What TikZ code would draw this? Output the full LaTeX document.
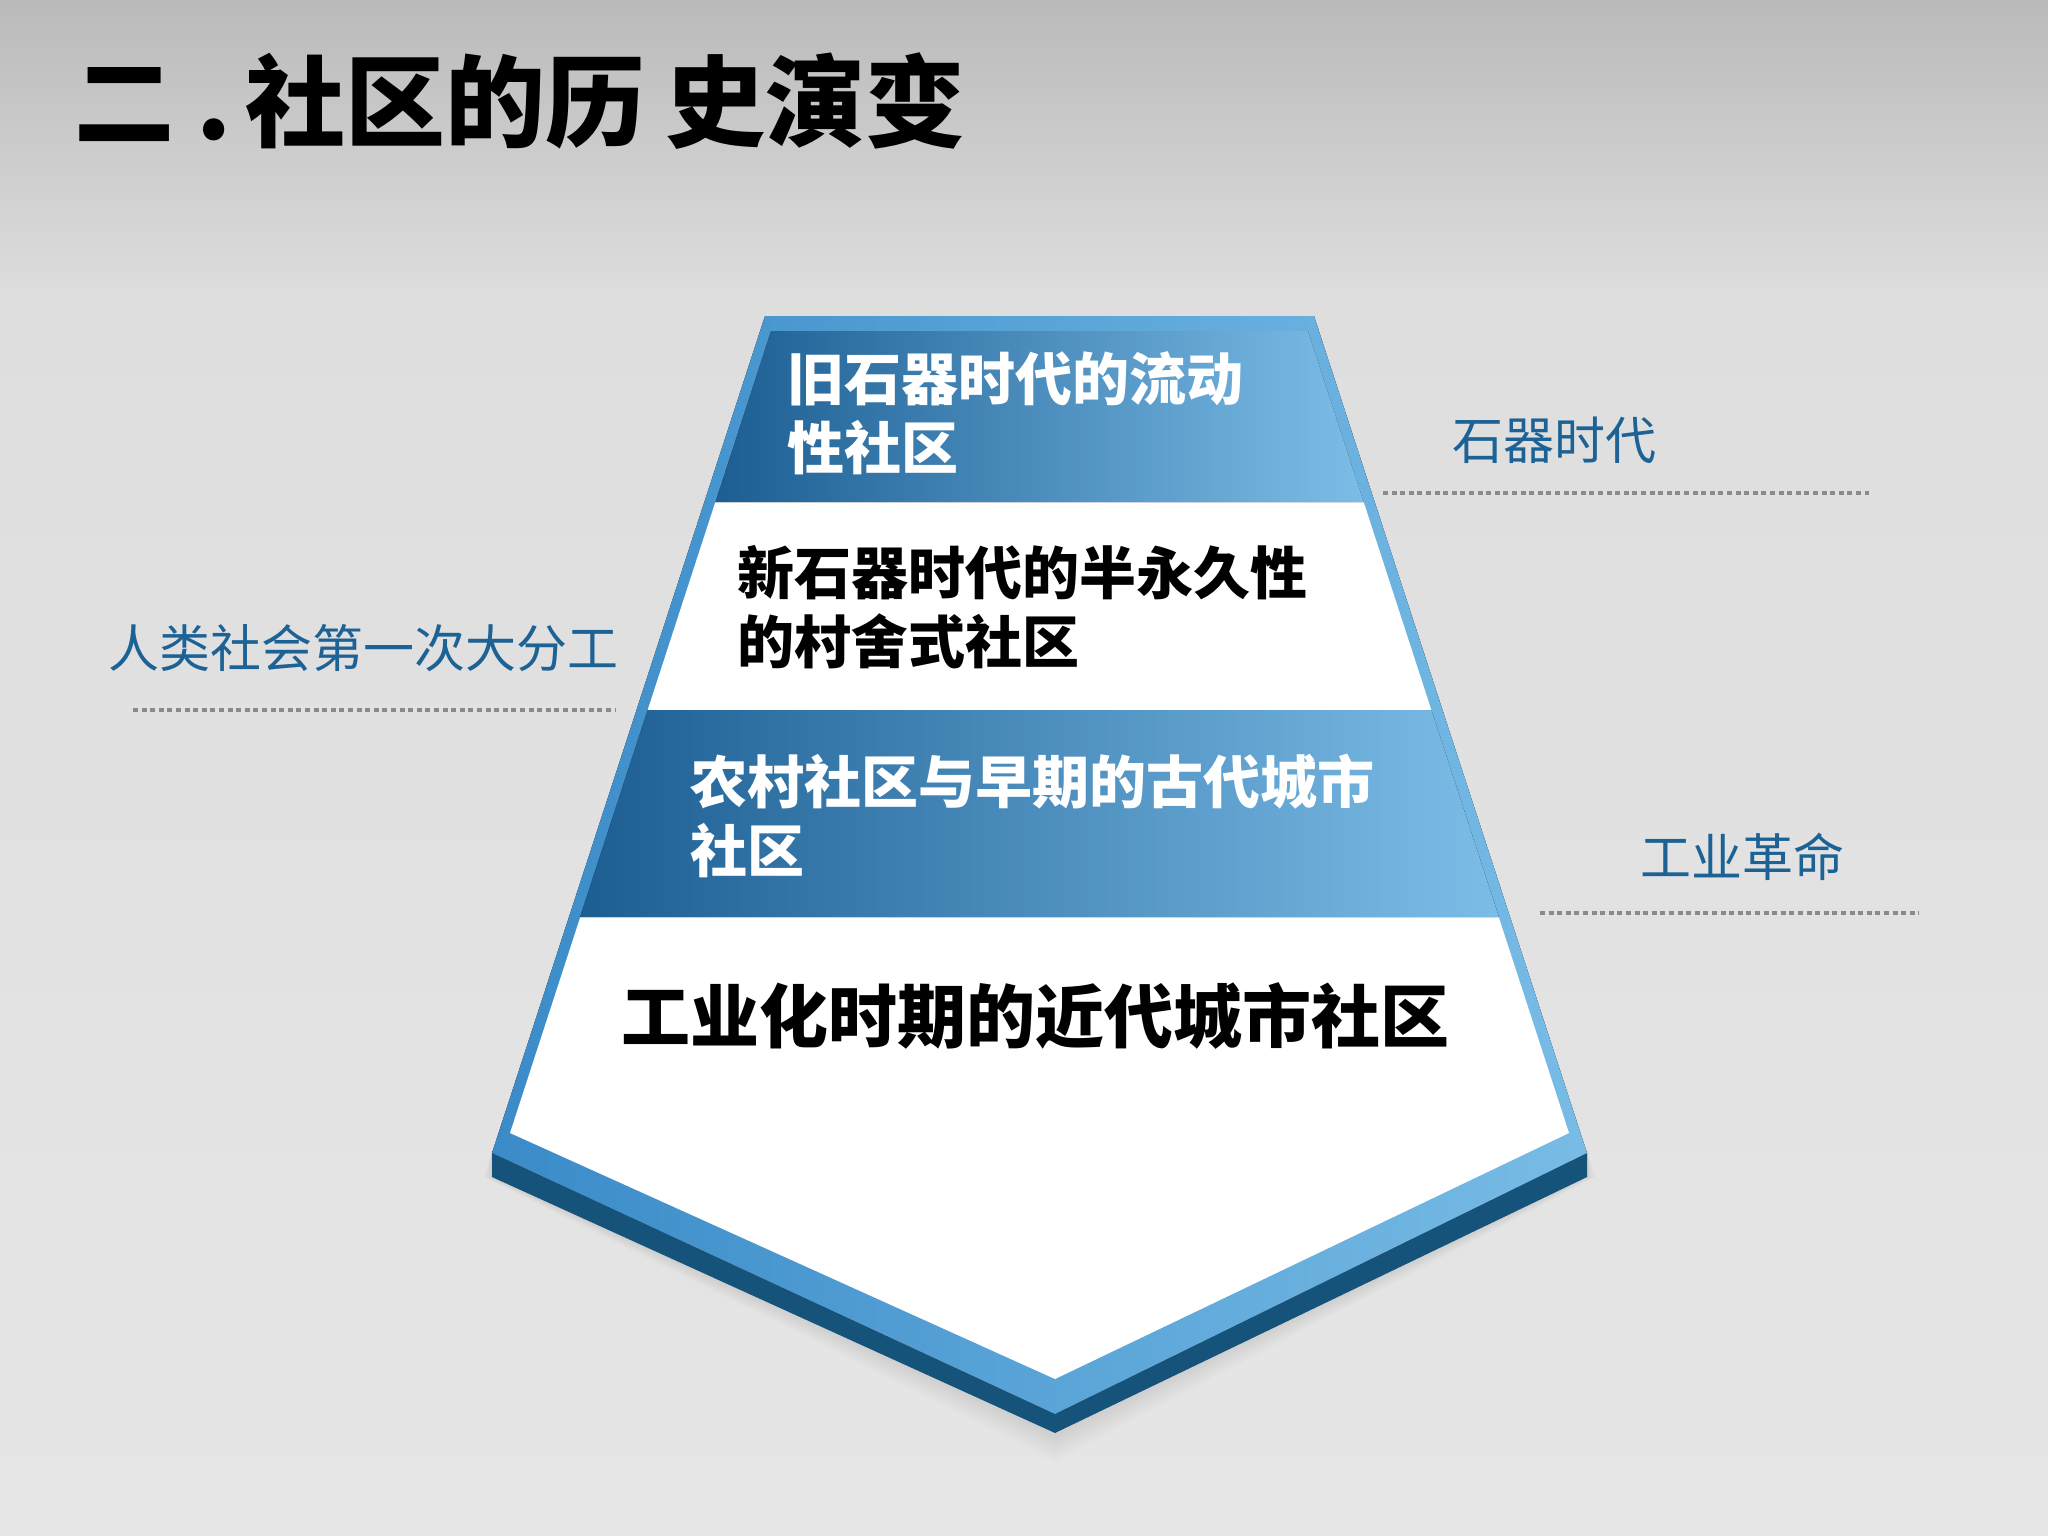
\documentclass[tikz,border=0pt]{standalone}
\usepackage{fontspec}
\newfontfamily\cjk{Noto Sans CJK SC}
\definecolor{bgtop}{RGB}{186,186,186}
\definecolor{bgmid}{RGB}{222,222,222}
\definecolor{bgbot}{RGB}{230,230,230}
\definecolor{framel}{RGB}{58,139,200}
\definecolor{framer}{RGB}{120,188,230}
\definecolor{framedark}{RGB}{21,83,123}
\definecolor{bandl}{RGB}{28,94,146}
\definecolor{bandr}{RGB}{124,189,232}
\definecolor{labelblue}{RGB}{28,98,148}
\definecolor{dotgray}{RGB}{138,138,138}
\tikzset{
  labeltext/.style={anchor=west,inner sep=0pt,text=labelblue,font=\cjk\fontsize{51}{51}\selectfont},
  bandtext/.style={anchor=west,inner sep=0pt,align=left,font=\cjk\bfseries\fontsize{57}{69}\selectfont},
  dotline/.style={draw=dotgray,line width=4.5pt,dash pattern=on 5pt off 3.6pt},
  bandfill/.style={left color=bandl,right color=bandr},
  shadowpart/.style={black,opacity=0.012}
}
\begin{document}
\begin{tikzpicture}[x=1pt,y=-1pt]
\useasboundingbox (0,0) rectangle (2048,1536);
% background
\fill[top color=bgtop,bottom color=bgmid] (0,0) rectangle (2048,300);
\fill[top color=bgmid,bottom color=bgbot] (0,299) rectangle (2048,1536);

% outer frame coordinates
\coordinate (OTL) at (765,316);
\coordinate (OTR) at (1314,316);
\coordinate (OBR) at (1587,1153);
\coordinate (OA) at (1055,1414);
\coordinate (OBL) at (492,1153);
\coordinate (DBL) at (492,1177);
\coordinate (DA) at (1055,1433);
\coordinate (DBR) at (1587,1177);
% inner
\coordinate (ITL) at (771,331);
\coordinate (ITR) at (1308,331);
\coordinate (IBR) at (1569,1133);
\coordinate (IA) at (1055,1379);
\coordinate (IBL) at (510,1133);
% band boundaries
\coordinate (B1L) at (715.4,502);
\coordinate (B1R) at (1363.6,502);
\coordinate (B2L) at (647.6,710);
\coordinate (B2R) at (1431.4,710);
\coordinate (B3L) at (580.1,917);
\coordinate (B3R) at (1498.9,917);

% soft shadow (layered)
\foreach \s in {4,8,...,28}{
  \fill[shadowpart] (492-\s*0.3,1177) -- (1055,1433+\s) -- (1587+\s*0.3,1177) -- (1587,1150) -- (1055,1410) -- (492,1150) -- cycle;
}

% dark bottom edge
\fill[framedark] (OBL) -- (DBL) -- (DA) -- (DBR) -- (OBR) -- (OA) -- cycle;
% frame
\fill[left color=framel,right color=framer] (OTL) -- (OTR) -- (OBR) -- (OA) -- (OBL) -- cycle;
% white inner
\fill[white] (ITL) -- (ITR) -- (IBR) -- (IA) -- (IBL) -- cycle;
% gradient bands
\fill[bandfill] (ITL) -- (ITR) -- (B1R) -- (B1L) -- cycle;
\fill[bandfill] (B2L) -- (B2R) -- (B3R) -- (B3L) -- cycle;

% title
\node[anchor=west,inner sep=0pt,font=\cjk\bfseries\fontsize{100}{100}\selectfont] (title) at (74,101)
  {二\hspace{22pt}.\hspace{14pt}社区的历\hspace{20pt}史演变};

% band texts
\node[bandtext,text=white] (band1) at (787,413) {旧石器时代的流动\\性社区};
\node[bandtext,text=black] (band2) at (737,607) {新石器时代的半永久性\\的村舍式社区};
\node[bandtext,text=white] (band3) at (690,816) {农村社区与早期的古代城市\\社区};
\node[bandtext,text=black,font=\cjk\bfseries\fontsize{69}{69}\selectfont] (band4) at (621,1016) {工业化时期的近代城市社区};

% side labels
\node[labeltext] (lab1) at (1452,440) {石器时代};
\node[labeltext] (lab2) at (108,648) {人类社会第一次大分工};
\node[labeltext] (lab3) at (1640,857) {工业革命};

\coordinate (d1a) at (1383,493);
\coordinate (d1b) at (1869,493);
\coordinate (d2a) at (133,710);
\coordinate (d2b) at (615,710);
\coordinate (d3a) at (1540,913);
\coordinate (d3b) at (1919,913);
\draw[dotline] (d1a) -- (d1b);
\draw[dotline] (d2a) -- (d2b);
\draw[dotline] (d3a) -- (d3b);
\end{tikzpicture}
\end{document}
